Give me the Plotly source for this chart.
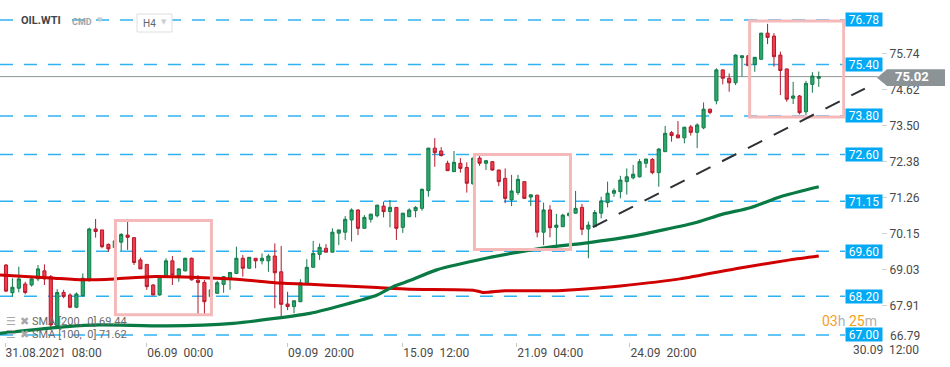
import plotly.graph_objects as go

W, H = 950, 367
PLOT_W, PLOT_H = 845, 342   # plotting area in pixels (top-left anchored)

# ---------------- data ----------------
opens = [69.17, 68.31, 68.45, 68.58, 68.55, 68.74, 68.99, 68.81, 67.28, 68.32,
         68.24, 67.86, 68.22, 68.71, 70.29, 70.26, 69.81, 69.71, 69.88, 70.10,
         70.02, 69.33, 69.19, 68.55, 68.24, 68.84, 69.30, 68.84, 68.99, 69.38,
         68.70, 68.63, 68.19, 68.29, 68.57, 68.74, 68.91, 69.38, 69.07, 69.38,
         69.30, 69.30, 69.45, 68.96, 67.96, 67.88, 68.03, 68.60, 69.10, 69.50,
         69.69, 69.57, 70.16, 70.19, 70.57, 70.88, 70.31, 70.59, 70.70, 71.00,
         70.83, 70.96, 70.34, 70.67, 70.86, 70.93, 71.48, 72.80, 72.71, 72.33,
         72.07, 72.33, 72.20, 71.69, 72.49, 72.33, 72.38, 72.12, 71.86, 71.19,
         71.42, 71.76, 71.28, 71.34, 70.19, 70.88, 70.34, 70.36, 70.70, 70.78,
         70.96, 70.29, 70.36, 70.78, 71.11, 71.40, 71.45, 71.76, 71.88, 71.91,
         72.33, 72.45, 72.04, 72.69, 73.28, 73.21, 73.12, 73.46, 73.29, 73.43,
         74.01, 74.27, 75.23, 74.97, 74.83, 75.61, 75.67, 75.40, 75.56, 76.37,
         76.28, 75.69, 75.26, 74.35, 74.42, 73.93, 74.78, 74.97]
highs = [69.20, 68.76, 69.12, 68.65, 68.83, 69.17, 69.19, 68.86, 68.42, 68.40,
         68.29, 68.32, 68.91, 70.33, 70.60, 70.26, 69.84, 69.95, 70.16, 70.52,
         70.03, 69.40, 69.19, 68.58, 68.86, 69.38, 69.45, 69.07, 69.40, 69.40,
         68.86, 68.71, 68.42, 68.68, 68.83, 68.94, 69.74, 69.48, 69.42, 69.38,
         69.53, 69.51, 69.84, 69.76, 68.34, 68.06, 68.73, 69.35, 69.92, 69.84,
         69.82, 70.31, 70.26, 70.69, 70.93, 70.90, 70.72, 70.76, 71.04, 71.14,
         71.19, 70.97, 70.79, 70.93, 71.00, 71.55, 72.81, 73.11, 72.83, 72.41,
         72.71, 72.49, 72.36, 72.52, 72.56, 72.43, 72.40, 72.13, 72.17, 71.97,
         71.97, 71.77, 71.36, 71.35, 71.11, 71.03, 70.76, 70.76, 70.80, 71.47,
         71.07, 70.52, 70.88, 71.29, 71.76, 71.55, 71.94, 72.17, 72.28, 72.46,
         72.47, 72.49, 72.80, 73.49, 73.33, 73.64, 73.46, 73.52, 73.57, 74.22,
         74.02, 75.28, 75.24, 75.12, 75.71, 75.67, 75.68, 75.63, 76.38, 76.66,
         76.37, 75.80, 75.27, 74.86, 74.45, 74.89, 75.16, 75.18]
lows = [68.33, 68.19, 68.32, 68.26, 68.50, 68.67, 68.55, 67.15, 67.22, 68.14,
        67.83, 67.83, 68.19, 68.65, 70.02, 69.69, 69.58, 69.68, 69.61, 69.64,
        69.17, 69.05, 68.40, 68.24, 68.22, 68.78, 68.55, 68.65, 68.97, 68.69,
        67.62, 67.62, 68.17, 68.29, 68.31, 68.40, 68.89, 68.81, 69.06, 69.07,
        69.19, 68.96, 67.83, 67.53, 67.77, 67.67, 68.02, 68.59, 69.09, 69.33,
        69.56, 69.56, 69.79, 69.95, 69.90, 70.10, 70.30, 70.49, 70.65, 70.65,
        70.34, 69.95, 70.17, 70.66, 70.65, 70.86, 71.29, 72.22, 72.54, 72.10,
        72.06, 72.04, 71.42, 71.66, 72.25, 72.12, 72.10, 71.62, 71.09, 71.00,
        71.35, 71.22, 71.00, 70.03, 69.79, 70.03, 69.67, 70.35, 70.69, 70.77,
        70.10, 69.38, 70.35, 70.62, 70.96, 71.29, 71.24, 71.36, 71.83, 71.89,
        72.19, 71.99, 71.60, 72.68, 73.00, 73.11, 72.95, 73.19, 72.80, 73.39,
        73.85, 74.16, 74.78, 74.55, 74.76, 75.02, 75.35, 75.17, 75.54, 76.03,
        75.33, 74.45, 74.24, 74.17, 73.85, 73.83, 74.52, 74.70]
closes = [68.36, 68.48, 68.74, 68.32, 68.74, 69.05, 68.74, 67.31, 68.32, 68.19,
          67.86, 68.27, 68.76, 70.29, 70.21, 69.74, 69.67, 69.92, 70.12, 70.03,
          69.25, 69.05, 68.50, 68.24, 68.83, 69.30, 68.86, 69.05, 69.38, 68.71,
          68.63, 68.03, 68.40, 68.62, 68.81, 68.94, 69.38, 69.07, 69.41, 69.30,
          69.38, 69.45, 68.93, 67.95, 67.88, 68.06, 68.62, 69.10, 69.53, 69.72,
          69.57, 70.19, 70.26, 70.59, 70.88, 70.31, 70.65, 70.75, 71.03, 70.83,
          70.96, 70.31, 70.78, 70.88, 70.96, 71.52, 72.80, 72.66, 72.57, 72.10,
          72.36, 72.17, 71.71, 72.49, 72.33, 72.41, 72.12, 71.76, 71.24, 71.47,
          71.83, 71.24, 71.35, 70.19, 70.88, 70.33, 70.41, 70.72, 70.78, 70.93,
          70.28, 70.41, 70.80, 71.16, 71.40, 71.48, 71.81, 71.91, 71.99, 72.38,
          72.46, 72.04, 72.77, 73.26, 73.19, 73.12, 73.45, 73.29, 73.52, 74.01,
          73.91, 75.23, 74.97, 74.83, 75.69, 75.67, 75.36, 75.62, 76.37, 76.24,
          75.64, 75.21, 74.32, 74.42, 73.90, 74.81, 75.04, 75.02]
bar_idx = list(range(len(opens)))

# moving averages (sampled along the drawn curves)
sma200_idx = [-1, 7, 12, 17, 22.5, 30, 37, 42, 47.5, 53, 58, 63, 73, 74.5, 78, 86,
              91, 96, 105.3, 114.7, 122.5, 127]
sma200 = [68.86, 68.77, 68.71, 68.74, 68.81, 68.78, 68.71, 68.62, 68.57, 68.52,
          68.47, 68.42, 68.39, 68.32, 68.37, 68.37, 68.43, 68.52, 68.74, 69.08,
          69.33, 69.45]
sma100_idx = [-1, 9.5, 14.7, 25, 35.5, 42.3, 47.5, 52.7, 58, 60.5, 63, 67.3, 75,
              80.3, 85.5, 90.8, 97.5, 102.7, 108, 112, 116.3, 121, 127]
sma100 = [67.05, 67.26, 67.31, 67.28, 67.36, 67.52, 67.67, 67.93, 68.24, 68.50,
          68.68, 69.02, 69.38, 69.58, 69.74, 69.86, 70.05, 70.26, 70.50, 70.75,
          70.95, 71.29, 71.60]
sma200_last = "69.44"
sma100_last = "71.62"

# axes
x_range = [-0.94, 131.1]
y_range = [66.78, 77.40]
x_tick_idx = [-0.15, 22, 44, 62, 79.8, 97.5]
x_tick_text = ["31.08.2021\u00a0\u00a008:00", "06.09\u00a0\u00a000:00", "09.09\u00a0\u00a020:00",
               "15.09\u00a0\u00a012:00", "21.09\u00a0\u00a004:00", "24.09\u00a0\u00a020:00"]
y_tick_vals = [67.91, 69.03, 70.15, 71.26, 72.38, 73.50, 74.62, 75.74]
y_bottom_tick = 66.79
future_label = "30.09\u00a0\u00a012:00"

# annotations / drawings
levels = [76.78, 75.40, 73.80, 72.60, 71.15, 69.60, 68.20, 67.00]
last_price = 75.02
box_x0 = [17.1, 73.2, 116.2]
box_x1 = [32.1, 88.2, 130.9]
box_y0 = [67.63, 69.65, 73.77]
box_y1 = [70.55, 72.60, 76.75]
trend_x = [91.7, 134.2]
trend_y = [70.35, 74.65]

# ---------------- figure ----------------
Y_DOM0 = 1 - PLOT_H / H


def px(x):
    return x / W


def py(y):
    return 1 - y / H


def data_to_paper(i, v):
    """map a (bar index, price) pair through the axis ranges to paper coords"""
    xp = (i - x_range[0]) / (x_range[1] - x_range[0]) * (PLOT_W / W)
    yp = Y_DOM0 + (v - y_range[0]) / (y_range[1] - y_range[0]) * (1 - Y_DOM0)
    return xp, yp


FONT = "Roboto"
GREEN_FILL, GREEN_LINE = "#2aa96c", "#137a48"
RED_FILL, RED_LINE = "#f23b4c", "#b3192b"

fig = go.Figure()

fig.add_trace(go.Candlestick(
    x=bar_idx, open=opens, high=highs, low=lows, close=closes,
    increasing=dict(fillcolor=GREEN_FILL, line=dict(color=GREEN_LINE, width=1)),
    decreasing=dict(fillcolor=RED_FILL, line=dict(color=RED_LINE, width=1)),
    whiskerwidth=0, hoverinfo="skip", showlegend=False,
))
fig.add_trace(go.Scatter(x=sma200_idx, y=sma200, mode="lines",
                         line=dict(color="#d00000", width=3, shape="spline", smoothing=0.6),
                         hoverinfo="skip", showlegend=False))
fig.add_trace(go.Scatter(x=sma100_idx, y=sma100, mode="lines",
                         line=dict(color="#0a7a44", width=3.2, shape="spline", smoothing=0.6),
                         hoverinfo="skip", showlegend=False))

shapes = []
# horizontal level lines
for lv in levels:
    shapes.append(dict(type="line", xref="paper", yref="y", x0=0, x1=px(PLOT_W),
                       y0=lv, y1=lv, layer="below",
                       line=dict(color="#2fb2f2", width=1.5, dash="13px,11px")))
# current price line
shapes.append(dict(type="line", xref="paper", yref="y", x0=0, x1=px(878),
                   y0=last_price, y1=last_price, layer="below",
                   line=dict(color="#8d9599", width=1)))
# highlight boxes
for a, b, c, d in zip(box_x0, box_x1, box_y0, box_y1):
    shapes.append(dict(type="rect", xref="x", yref="y", x0=a, x1=b, y0=c, y1=d,
                       layer="above", line=dict(color="#f6b9b9", width=3),
                       fillcolor="rgba(0,0,0,0)"))
# trend line (runs a little past the plot edge, as in the original)
tx0, ty0_ = data_to_paper(trend_x[0], trend_y[0])
tx1, ty1_ = data_to_paper(trend_x[1], trend_y[1])
shapes.append(dict(type="line", xref="paper", yref="paper", x0=tx0, x1=tx1,
                   y0=ty0_, y1=ty1_, layer="above",
                   line=dict(color="#2d3136", width=2, dash="16px,13px")))
# current price tag (arrow box)
ty0, ty1 = 69.3, 86.0
tmid = (ty0 + ty1) / 2
path = (f"M {px(877)},{py(tmid)} L {px(887)},{py(ty0)} L {px(945)},{py(ty0)} "
        f"L {px(945)},{py(ty1)} L {px(887)},{py(ty1)} Z")
shapes.append(dict(type="path", xref="paper", yref="paper", path=path,
                   fillcolor="#8c9397", line=dict(width=0), layer="above"))
# H4 selector box
shapes.append(dict(type="rect", xref="paper", yref="paper", x0=px(137), x1=px(172),
                   y0=py(32), y1=py(14), fillcolor="white",
                   line=dict(color="#dedede", width=1), layer="above"))

annotations = []
# level price boxes
for lv in levels:
    annotations.append(dict(xref="paper", yref="y", x=px(PLOT_W), y=lv, xanchor="left",
                            yanchor="middle", text=f"{lv:.2f}", showarrow=False,
                            bgcolor="#03a9f4", width=34, height=11, borderpad=1,
                            font=dict(family=FONT, size=12, color="white")))
# last price text
annotations.append(dict(xref="paper", yref="y", x=px(912), y=last_price, xanchor="center",
                        yanchor="middle", text=f"<b>{last_price:.2f}</b>", showarrow=False,
                        font=dict(family=FONT, size=13, color="white")))
# bottom right axis value
annotations.append(dict(xref="paper", yref="paper", x=px(888), y=py(336), xanchor="left",
                        yanchor="middle", text=f"{y_bottom_tick:.2f}", showarrow=False,
                        font=dict(family=FONT, size=12, color="#4a4a4a")))
annotations.append(dict(xref="paper", yref="paper", x=px(851), y=py(350), xanchor="left",
                        yanchor="middle", text=future_label, showarrow=False,
                        font=dict(family=FONT, size=12, color="#4a4a4a")))
# countdown
annotations.append(dict(xref="paper", yref="paper", x=px(820), y=py(320.5), xanchor="left",
                        yanchor="middle",
                        text=("<span style='color:#f7a01c'>03</span>h\u00a0"
                              "<span style='color:#f7a01c'>25</span>m"),
                        showarrow=False, font=dict(family=FONT, size=14, color="#b0b0b0")))
# header
annotations.append(dict(xref="paper", yref="paper", x=px(19), y=py(21), xanchor="left",
                        yanchor="middle", text="<b>OIL.WTI</b>", showarrow=False,
                        bgcolor="white", font=dict(family=FONT, size=11, color="#3e454b")))
annotations.append(dict(xref="paper", yref="paper", x=px(70), y=py(21.5), xanchor="left",
                        yanchor="middle", text="<b>CMD</b>", showarrow=False,
                        font=dict(family=FONT, size=9, color="#9da5ac")))
annotations.append(dict(xref="paper", yref="paper", x=px(95), y=py(20), xanchor="left",
                        yanchor="middle", text="▼", showarrow=False,
                        font=dict(family="DejaVu Sans", size=7, color="#c9cdd0")))
annotations.append(dict(xref="paper", yref="paper", x=px(141), y=py(23), xanchor="left",
                        yanchor="middle", text="H4", showarrow=False,
                        font=dict(family=FONT, size=10, color="#5f666b")))
annotations.append(dict(xref="paper", yref="paper", x=px(159), y=py(22), xanchor="left",
                        yanchor="middle", text="▼", showarrow=False,
                        font=dict(family="DejaVu Sans", size=7, color="#c9cdd0")))
# indicator legend
for yy, name, val in [(321, "SMA [200,\u00a0 0]", sma200_last), (334, "SMA [100,\u00a0 0]", sma100_last)]:
    annotations.append(dict(xref="paper", yref="paper", x=px(4), y=py(yy), xanchor="left",
                            yanchor="middle", text="☰", showarrow=False,
                            font=dict(family="DejaVu Sans", size=11, color="#a8a8a8")))
    annotations.append(dict(xref="paper", yref="paper", x=px(18), y=py(yy), xanchor="left",
                            yanchor="middle", text="✖", showarrow=False,
                            font=dict(family="DejaVu Sans", size=11, color="#a8a8a8")))
    annotations.append(dict(xref="paper", yref="paper", x=px(30), y=py(yy), xanchor="left",
                            yanchor="middle", text=f"{name} {val}", showarrow=False,
                            font=dict(family=FONT, size=11, color="#6a6a6a")))

fig.update_layout(
    width=W, height=H, margin=dict(l=0, r=0, t=0, b=0),
    paper_bgcolor="white", plot_bgcolor="white", showlegend=False,
    font=dict(family=FONT, size=12, color="#4a4a4a"),
    shapes=shapes, annotations=annotations, hovermode=False,
    xaxis=dict(domain=[0, PLOT_W / W], range=x_range, showgrid=False, zeroline=False,
               showline=False, tickmode="array", tickvals=x_tick_idx, ticktext=x_tick_text,
               ticks="outside", ticklen=4, tickcolor="#c8c8c8",
               ticklabelposition="outside right",
               tickfont=dict(family=FONT, size=12, color="#4a4a4a"),
               rangeslider=dict(visible=False), fixedrange=True),
    yaxis=dict(domain=[Y_DOM0, 1], range=y_range, side="right", anchor="free",
               position=881 / W, showgrid=False, zeroline=False, showline=False,
               tickmode="array", tickvals=y_tick_vals,
               ticktext=[f"{v:.2f}" for v in y_tick_vals],
               ticks="outside", ticklen=5, tickcolor="#d4d4d4",
               tickfont=dict(family=FONT, size=12, color="#4a4a4a"), fixedrange=True),
)

# remove the default 8px page margin so the figure sits at the window's top-left corner
fig.write_html("out.html", config={"displayModeBar": False},
               post_script="document.body.style.margin='0px';document.body.style.overflow='hidden';")
